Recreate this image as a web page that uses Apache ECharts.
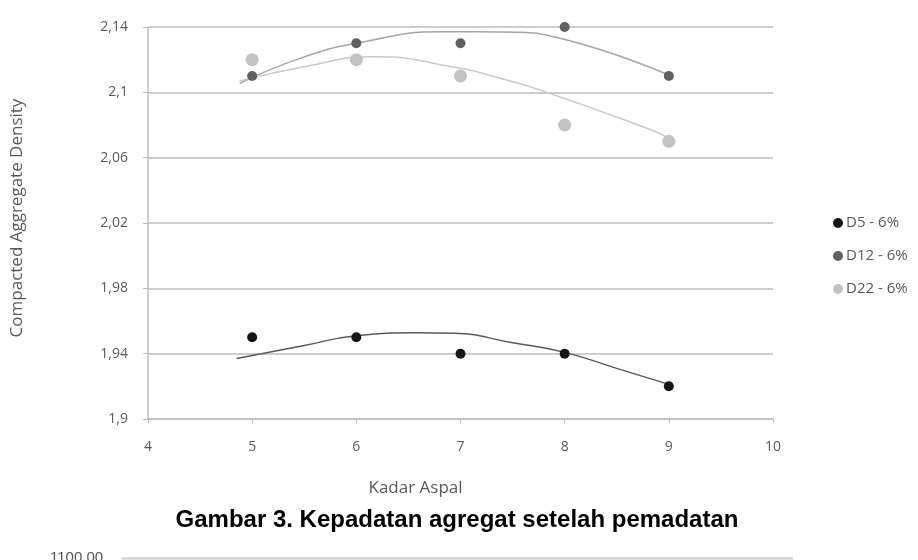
<!DOCTYPE html>
<html>
<head>
<meta charset="utf-8">
<script src="https://cdn.jsdelivr.net/npm/echarts@6/dist/echarts.min.js"></script>
<style>
html,body{margin:0;padding:0;background:#fff;}
#c{width:918px;height:560px;}
</style>
</head>
<body>
<div id="c"></div>
<script>
// ---- data ----
var kadarAspal = [5, 6, 7, 8, 9];
var d5 = [1.95, 1.95, 1.94, 1.94, 1.92];
var d12 = [2.11, 2.13, 2.13, 2.14, 2.11];
var d22 = [2.12, 2.12, 2.11, 2.08, 2.07];
// trendlines
var trendD5X = [4.85, 5.5, 6.0, 6.58, 6.93, 7.5, 8.0, 8.5, 9.0];
var trendD5Y = [1.937, 1.945, 1.951, 1.9528, 1.9525, 1.9467, 1.9408, 1.931, 1.9212];
var trendD12X = [4.88, 5.46, 6.0, 6.83, 7.38, 8.02, 9.0];
var trendD12Y = [2.1055, 2.1208, 2.130, 2.1371, 2.137, 2.132, 2.1106];
var trendD22X = [4.88, 5.5, 6.16, 7.0, 7.38, 7.76, 8.79, 9.0];
var trendD22Y = [2.107, 2.1156, 2.1218, 2.1147, 2.1086, 2.1015, 2.078, 2.072];
var seriesNames = ['D5 - 6%', 'D12 - 6%', 'D22 - 6%'];
var yTicks = ['1,9', '1,94', '1,98', '2,02', '2,06', '2,1', '2,14'];

function pairs(xs, ys) { return xs.map(function (x, i) { return [x, ys[i]]; }); }

var chart = echarts.init(document.getElementById('c'));
var labelColor = '#595959';
chart.setOption({
  animation: false,
  backgroundColor: '#fff',
  textStyle: { fontFamily: 'Open Sans, Liberation Sans, sans-serif' },
  grid: { left: 148, right: 145, top: 27, bottom: 141 },
  title: [{
    text: 'Gambar 3. Kepadatan agregat setelah pemadatan',
    left: 457, top: 508, textAlign: 'center', padding: 0,
    textStyle: { fontFamily: 'Liberation Sans, Arial, sans-serif', fontWeight: 'bold', fontSize: 24, color: '#000' }
  }, {
    text: '1100,00',
    left: 50, top: 550, padding: 0,
    textStyle: { fontFamily: 'Liberation Sans, Arial, sans-serif', fontWeight: 'normal', fontSize: 15, color: '#555' }
  }],
  graphic: [{
    type: 'line', shape: { x1: 122, y1: 558.5, x2: 793, y2: 558.5 },
    style: { stroke: '#cccccc', lineWidth: 2 }
  }],
  legend: {
    orient: 'vertical', left: 833, top: 215, itemGap: 17, padding: 0,
    itemWidth: 10, itemHeight: 10, icon: 'circle', itemStyle: { borderWidth: 0 },
    data: seriesNames,
    textStyle: { color: labelColor, fontSize: 15, lineHeight: 16, padding: [0, 0, 0, -2] }
  },
  xAxis: {
    type: 'value', min: 4, max: 10, interval: 1,
    name: 'Kadar Aspal', nameLocation: 'middle', nameGap: 61,
    nameTextStyle: { color: labelColor, fontSize: 17, padding: [0, 90, 0, 0] },
    axisLine: { lineStyle: { color: '#bdbdbd', width: 1.5 } },
    axisTick: { show: true, length: 4, lineStyle: { color: '#bdbdbd' } },
    axisLabel: { color: labelColor, fontSize: 14, margin: 21 },
    splitLine: { show: false }
  },
  yAxis: {
    type: 'value', min: 1.9, max: 2.14, interval: 0.04,
    name: 'Compacted Aggregate Density', nameLocation: 'middle', nameGap: 122,
    nameTextStyle: { color: labelColor, fontSize: 17, padding: [0, 0, 0, 10] },
    axisLine: { show: true, lineStyle: { color: '#bdbdbd', width: 1.5 } },
    axisTick: { show: true, length: 5, lineStyle: { color: '#bdbdbd' } },
    axisLabel: {
      color: labelColor, fontSize: 14, margin: 20,
      formatter: function (v) {
        var i = Math.round((v - 1.9) / 0.04);
        return yTicks[i] !== undefined ? yTicks[i] : '';
      }
    },
    splitLine: { show: true, lineStyle: { color: '#cdcdcd', width: 2 } }
  },
  series: [
    { name: 'trend5', type: 'line', data: pairs(trendD5X, trendD5Y), smooth: true, symbol: 'none',
      lineStyle: { color: '#5a5a5a', width: 1.5 }, silent: true, z: 2 },
    { name: 'trend12', type: 'line', data: pairs(trendD12X, trendD12Y), smooth: true, symbol: 'none',
      lineStyle: { color: '#a5a5a5', width: 1.5 }, silent: true, z: 2 },
    { name: 'trend22', type: 'line', data: pairs(trendD22X, trendD22Y), smooth: true, symbol: 'none',
      lineStyle: { color: '#c8c8c8', width: 1.5 }, silent: true, z: 2 },
    { name: seriesNames[0], type: 'scatter', data: pairs(kadarAspal, d5), symbolSize: 10,
      itemStyle: { color: '#151515', opacity: 1 }, z: 5 },
    { name: seriesNames[1], type: 'scatter', data: pairs(kadarAspal, d12), symbolSize: 10,
      itemStyle: { color: '#606060', opacity: 1 }, z: 5 },
    { name: seriesNames[2], type: 'scatter', data: pairs(kadarAspal, d22), symbolSize: 13,
      itemStyle: { color: '#c2c2c2', opacity: 1 }, z: 4 }
  ]
});
</script>
</body>
</html>
